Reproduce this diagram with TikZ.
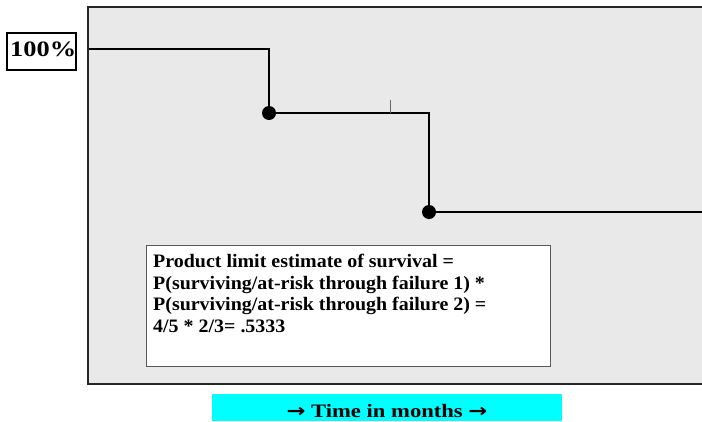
\documentclass[tikz,border=0pt]{standalone}
\usepackage{fontspec}
\setmainfont{Liberation Serif}
\newfontfamily\arrowfont{DejaVu Sans}
\definecolor{brightcyan}{RGB}{0,255,255}
\definecolor{plotgray}{RGB}{233,233,233}
\begin{document}
\begin{tikzpicture}[x=1pt,y=-1pt,
  frame/.style={draw=black!85, line width=2pt},
  stepline/.style={draw=black, line width=1.8pt},
  dot/.style={circle, fill=black, inner sep=0pt, minimum size=14pt},
  labelbox/.style={draw=black, line width=1.5pt, fill=white, inner sep=0pt, minimum width=69pt, minimum height=37pt},
  notebox/.style={draw=black!65, line width=1.2pt, fill=white, inner sep=0pt, minimum width=404pt, minimum height=121pt},
  bigtext/.style={font=\fontsize{19}{21.5}\selectfont\bfseries},
  timebox/.style={fill=brightcyan, inner sep=0pt, minimum width=350pt, minimum height=27pt},
  ticklabel/.style={draw=black!60, line width=0.8pt}]
\useasboundingbox (0,0) rectangle (702,421);
\fill[white] (0,0) rectangle (702,421);
\fill[plotgray] (88,7) rectangle (702,384);
\draw[frame] (702,7) -- (88,7) -- (88,384) -- (702,384);
\node[labelbox] (hundred) at (41.5,51.5) {};
\node[font=\fontsize{22}{24}\selectfont\bfseries, anchor=base west, inner sep=0pt] (hundredtxt) at (10,56) {\scalebox{1.2}[1]{100\%}};
\coordinate (s0) at (89,49);
\node[dot] (d1) at (269,113) {};
\node[dot] (d2) at (429,212) {};
\coordinate (s3) at (702,212);
\draw[stepline] (s0) -| (d1.center) -| (d2.center) -- (s3);
\coordinate (t0) at (390,100);
\coordinate (t1) at (390,113);
\draw[ticklabel] (t0) -- (t1);
\node[notebox, anchor=north west] (note) at (146,245) {};
\node[bigtext, anchor=north west, align=left, inner sep=0pt] (notetxt) at (153,254)
  {\scalebox{1.05}[1]{Product limit estimate of survival =}\\
   \scalebox{1.05}[1]{P(surviving/at-risk through failure 1) *}\\
   \scalebox{1.05}[1]{P(surviving/at-risk through failure 2) =}\\
   \scalebox{1.05}[1]{4/5 * 2/3= .5333}};
\node[timebox] (time) at (387,407.5) {};
\node[bigtext, anchor=base, inner sep=0pt] (timetxt) at (387,417) {\scalebox{1.19}[1]{{\arrowfont\bfseries →} Time in months {\arrowfont\bfseries →}}};
\end{tikzpicture}
\end{document}
